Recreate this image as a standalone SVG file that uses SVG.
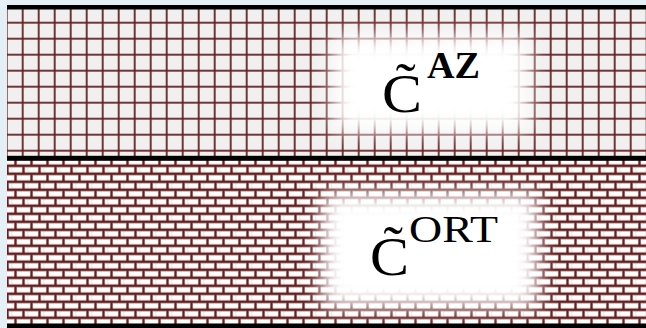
<svg xmlns="http://www.w3.org/2000/svg" width="646" height="328" viewBox="0 0 646 328">
<style>
.big{font-family:"Liberation Serif","DejaVu Serif",serif;font-size:54px;fill:#000}
.sup{font-family:"Liberation Serif","DejaVu Serif",serif;font-size:38px;fill:#000}
.bar{fill:#000}
</style>
<defs>
<pattern id="grid" patternUnits="userSpaceOnUse" x="-1.3" y="-1.3" width="16" height="16">
<rect width="16" height="16" fill="#f0f0f0"/>
<rect x="7.1" y="0" width="1.8" height="16" fill="#66201f"/>
<rect x="0" y="7.1" width="16" height="1.8" fill="#66201f"/>
</pattern>
<pattern id="brick" patternUnits="userSpaceOnUse" x="-4" y="1.8" width="16" height="16">
<rect width="16" height="16" fill="#66201f"/>
<rect x="12.9" y="5.4" width="3.1" height="5.2" fill="#fff" stroke="#c9b4b4" stroke-width="0.6"/>
<rect x="-0.2" y="5.4" width="10.3" height="5.2" fill="#fff" stroke="#c9b4b4" stroke-width="0.6"/>
<rect x="4.9" y="13.4" width="13" height="5.2" fill="#fff" stroke="#c9b4b4" stroke-width="0.6"/>
<rect x="4.9" y="-2.6" width="13" height="5.2" fill="#fff" stroke="#c9b4b4" stroke-width="0.6"/>
<rect x="-3.1" y="13.4" width="5.2" height="5.2" fill="#fff" stroke="#c9b4b4" stroke-width="0.6"/>
<rect x="-3.1" y="-2.6" width="5.2" height="5.2" fill="#fff" stroke="#c9b4b4" stroke-width="0.6"/>
</pattern>
<filter id="glow" x="-30%" y="-30%" width="160%" height="160%">
<feGaussianBlur stdDeviation="10"/>
</filter>
</defs>
<rect width="646" height="328" fill="#e4f0f6"/>
<g id="az-layer">
<rect x="7" y="7" width="639" height="151" fill="url(#grid)"/>
<rect x="333" y="36" width="196" height="96" fill="#fff" filter="url(#glow)"/>
<text class="big" x="382" y="112" textLength="40" lengthAdjust="spacingAndGlyphs">C&#x303;</text>
<text class="sup" x="427" y="78" font-weight="bold" textLength="53" lengthAdjust="spacingAndGlyphs">AZ</text>
</g>
<g id="ort-layer">
<rect x="7" y="158" width="639" height="168" fill="url(#brick)"/>
<rect x="322" y="193" width="216" height="114" fill="#fff" filter="url(#glow)"/>
<text class="big" x="370" y="275" textLength="39" lengthAdjust="spacingAndGlyphs">C&#x303;</text>
<text class="sup" x="409" y="241.5" textLength="89" lengthAdjust="spacingAndGlyphs">ORT</text>
</g>
<g id="bars">
<rect class="bar" x="7" y="5" width="639" height="4.5"/>
<rect class="bar" x="7" y="155.8" width="639" height="5"/>
<rect class="bar" x="7" y="323.5" width="639" height="4.5"/>
</g>
</svg>
